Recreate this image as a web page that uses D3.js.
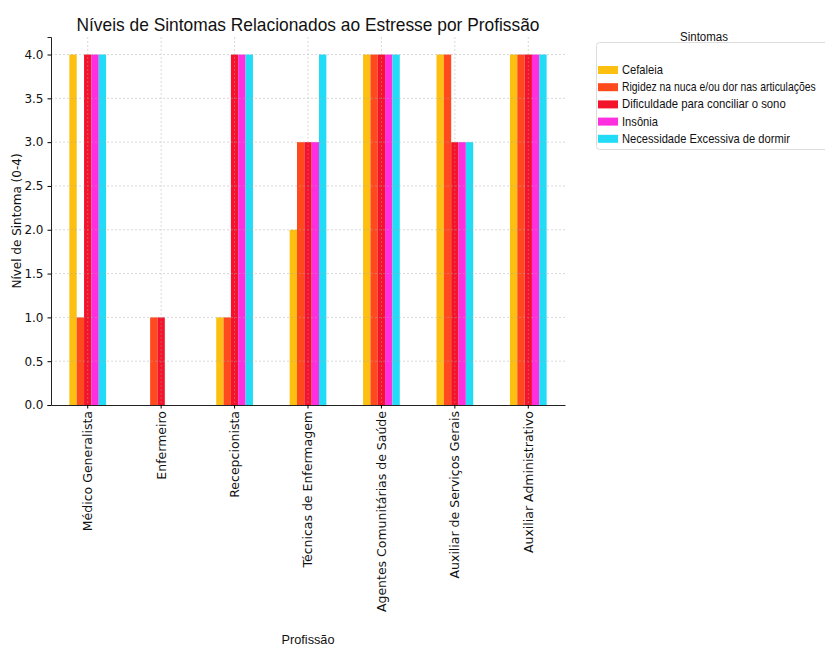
<!DOCTYPE html>
<html><head><meta charset="utf-8">
<script src="https://cdn.jsdelivr.net/npm/d3@7"></script>
<style>
html,body{margin:0;padding:0;background:#fff;}
svg{display:block;}
text{font-family:"DejaVu Sans",sans-serif;fill:#111;}
</style></head>
<body>
<svg id="c" width="825" height="646"></svg>
<script>
const categories = ["Médico Generalista","Enfermeiro","Recepcionista","Técnicas de Enfermagem","Agentes Comunitárias de Saúde","Auxiliar de Serviços Gerais","Auxiliar Administrativo"];
const seriesNames = ["Cefaleia","Rigidez na nuca e/ou dor nas articulações","Dificuldade para conciliar o sono","Insônia","Necessidade Excessiva de dormir"];
const cefaleia     = [4,0,1,2,4,4,4];
const rigidez      = [1,1,1,3,4,4,4];
const dificuldade  = [4,1,4,3,4,3,4];
const insonia      = [4,0,4,3,4,3,4];
const necessidade  = [4,0,4,4,4,3,4];
const yTicks = [0,0.5,1,1.5,2,2.5,3,3.5,4];
const colors = ["#FDC010","#FF4A1E","#F3132B","#FF2EDF","#22DBF6"];
const legendWidths = [41,194,164,36,168];

const series = [cefaleia,rigidez,dificuldade,insonia,necessidade];
const svg = d3.select("#c");
const L=51,R=565,T=37,B=405;
const x = d3.scaleBand().domain(categories).range([L,R]).padding(0);
const y = d3.scaleLinear().domain([0,4.2]).range([B,T]);
const groupW = x.bandwidth()*0.5;
const xs = d3.scaleBand().domain(d3.range(series.length)).range([-groupW/2,groupW/2]).padding(0);

// squeeze a text horizontally to a target width
function squeeze(sel, target, tx, ty){
  const n = sel.node();
  const w = n.getComputedTextLength();
  const sx = target / w;
  sel.attr("x",0).attr("y",0).attr("transform",`translate(${tx},${ty}) scale(${sx},1)`);
}

// bars
series.forEach((vals,si)=>{
  svg.append("g").selectAll("rect").data(vals).join("rect")
    .attr("x",(d,i)=>x(categories[i])+x.bandwidth()/2+xs(si))
    .attr("width",xs.bandwidth())
    .attr("y",d=>y(d))
    .attr("height",d=>B-y(d))
    .attr("fill",colors[si]);
});

// grid over bars
const grid = svg.append("g").attr("stroke","#aaa").attr("stroke-dasharray","2,2").attr("stroke-width",0.8).attr("opacity",0.55);
yTicks.filter(t=>t>0).forEach(t=>grid.append("line").attr("x1",L).attr("x2",R).attr("y1",y(t)).attr("y2",y(t)));
categories.forEach(c=>grid.append("line").attr("x1",x(c)+x.bandwidth()/2).attr("x2",x(c)+x.bandwidth()/2).attr("y1",T).attr("y2",B));

// axes
const yAxis = svg.append("g").attr("transform",`translate(${L},0)`)
  .call(d3.axisLeft(y).tickValues(yTicks).tickFormat(d3.format(".1f")).tickSize(3.5).tickPadding(4));
yAxis.select(".domain").attr("stroke","#222").attr("stroke-width",1);
yAxis.selectAll("text").style("font-size","12px").style("font-family","DejaVu Sans").attr("fill","#111");

const xAxis = svg.append("g").attr("transform",`translate(0,${B})`)
  .call(d3.axisBottom(x).tickSize(3.5).tickSizeOuter(0));
xAxis.select(".domain").attr("stroke","#222").attr("stroke-width",1);
xAxis.selectAll("text")
  .style("font-size","12.5px").style("font-family","DejaVu Sans").attr("fill","#111")
  .attr("transform","rotate(-90)").attr("text-anchor","end")
  .attr("x",-6).attr("y",0).attr("dy","0.35em");

// title
svg.append("text").attr("x",308).attr("y",31).attr("text-anchor","middle")
  .style("font-size","19px").style("font-family","Liberation Sans")
  .attr("textLength",463).attr("lengthAdjust","spacingAndGlyphs")
  .text("Níveis de Sintomas Relacionados ao Estresse por Profissão");

// axis labels
svg.append("text").attr("transform",`translate(21,${(T+B)/2}) rotate(-90)`).attr("text-anchor","middle")
  .style("font-size","12px").text("Nível de Sintoma (0-4)");
svg.append("text").attr("x",308).attr("y",644).attr("text-anchor","middle")
  .style("font-size","12.5px").style("font-family","Liberation Sans")
  .attr("textLength",53).attr("lengthAdjust","spacingAndGlyphs").text("Profissão");

// legend
const lg = svg.append("g");
lg.append("text").attr("x",704).attr("y",41).attr("text-anchor","middle")
  .style("font-size","12px").style("font-family","Liberation Sans")
  .attr("textLength",48).attr("lengthAdjust","spacingAndGlyphs").text("Sintomas");
lg.append("rect").attr("x",596.5).attr("y",42.5).attr("width",240).attr("height",107).attr("rx",3)
  .attr("fill","#fff").attr("stroke","#ddd");
seriesNames.forEach((n,i)=>{
  const yy = 70+i*17.2;
  lg.append("rect").attr("x",598).attr("y",yy-4).attr("width",20).attr("height",8).attr("fill",colors[i]);
  const t = lg.append("text").style("font-size","12px").style("font-family","Liberation Sans").text(n);
  squeeze(t, legendWidths[i], 622, yy+4);
});
</script>
</body></html>
